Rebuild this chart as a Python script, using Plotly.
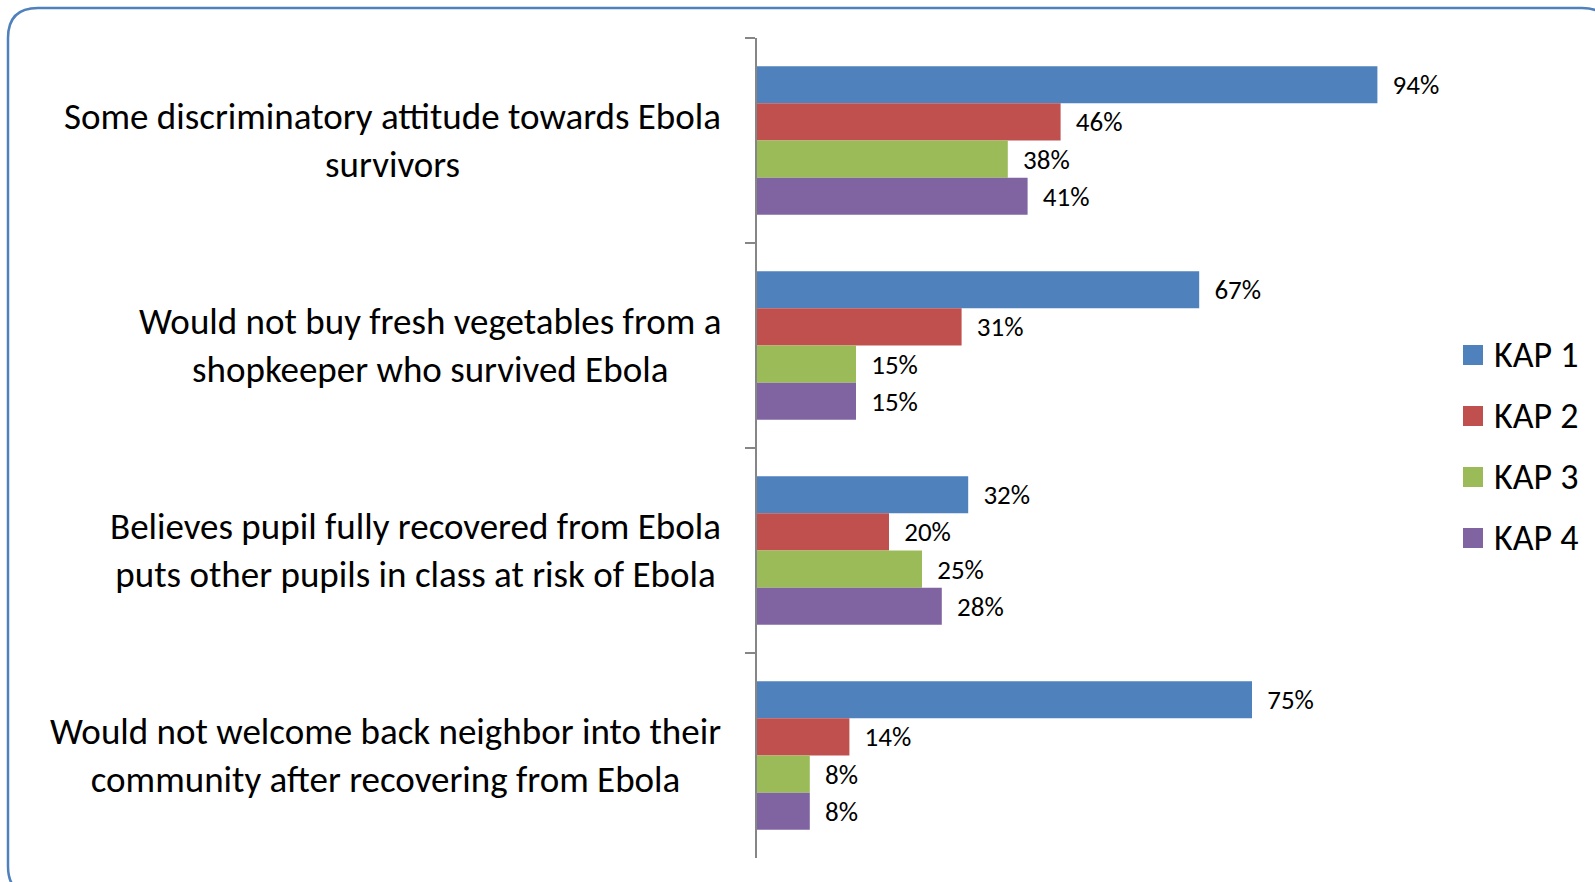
import plotly.graph_objects as go

# Survey statements (top to bottom) and the share agreeing in each KAP round
categories = [
    "Some discriminatory attitude towards Ebola<br>survivors",
    "Would not buy fresh vegetables from a<br>shopkeeper who survived Ebola",
    "Believes pupil fully recovered from Ebola<br>puts other pupils in class at risk of Ebola",
    "Would not welcome back neighbor into their<br>community after recovering from Ebola",
]
series_names = ["KAP 1", "KAP 2", "KAP 3", "KAP 4"]
kap1 = [94, 67, 32, 75]
kap2 = [46, 31, 20, 14]
kap3 = [38, 15, 25, 8]
kap4 = [41, 15, 28, 8]
series_values = [kap1, kap2, kap3, kap4]
colors = ["#4F81BD", "#C0504D", "#9BBB59", "#8064A2"]

FONT = "Carlito, Calibri, 'Liberation Sans Narrow', 'DejaVu Sans Condensed', Roboto, sans-serif"

W, H = 1595, 882
ML, MR, MT, MB = 757, 178, 38, 24
PW, PH = W - ML - MR, H - MT - MB


def px(x):
    return (x - ML) / PW


def py(y):
    return (H - MB - y) / PH


fig = go.Figure()
for name, vals, col in zip(series_names, series_values, colors):
    fig.add_trace(go.Bar(
        y=categories, x=vals, name=name, orientation="h",
        marker=dict(color=col, line=dict(width=0)),
        text=[f"\u00a0\u00a0{v}%" for v in vals],
        textposition="outside", cliponaxis=False,
        textfont=dict(family=FONT, size=27, color="#000000"),
        constraintext="none",
        showlegend=False,
    ))

# Category labels, centred lines, set left of the axis
annotations = []
for c in categories:
    annotations.append(dict(
        x=0, xref="paper", y=c, yref="y", xanchor="right", yanchor="middle",
        xshift=-34, align="center", showarrow=False, text=c,
        font=dict(family=FONT, size=37, color="#000000"),
    ))

# Legend: coloured squares with series names
shapes = []
leg_y = [355, 416, 477, 538]
for name, col, yy in zip(series_names, colors, leg_y):
    shapes.append(dict(type="rect", xref="paper", yref="paper",
                       x0=px(1463), x1=px(1483), y0=py(yy + 10), y1=py(yy - 10),
                       fillcolor=col, line=dict(width=0)))
    annotations.append(dict(x=px(1492), y=py(yy), xref="paper", yref="paper",
                            xanchor="left", yanchor="middle", showarrow=False,
                            text=name, font=dict(family=FONT, size=36, color="#000000")))

# Rounded frame around the chart (runs past the right and bottom edges)
x0, y0, x1, y1, r = 8, 8, 1612, 896, 30
path = (
    f"M{px(x0 + r)},{py(y0)} L{px(x1 - r)},{py(y0)} "
    f"Q{px(x1)},{py(y0)} {px(x1)},{py(y0 + r)} "
    f"L{px(x1)},{py(y1 - r)} Q{px(x1)},{py(y1)} {px(x1 - r)},{py(y1)} "
    f"L{px(x0 + r)},{py(y1)} Q{px(x0)},{py(y1)} {px(x0)},{py(y1 - r)} "
    f"L{px(x0)},{py(y0 + r)} Q{px(x0)},{py(y0)} {px(x0 + r)},{py(y0)} Z"
)
shapes.append(dict(type="path", xref="paper", yref="paper", path=path,
                   line=dict(color="#4F81BD", width=2.5), layer="below"))

fig.update_layout(
    width=W, height=H,
    margin=dict(l=ML, r=MR, t=MT, b=MB),
    paper_bgcolor="#FFFFFF", plot_bgcolor="#FFFFFF",
    barmode="group", bargap=0.275, bargroupgap=0,
    xaxis=dict(range=[0, 100], visible=False, fixedrange=True),
    yaxis=dict(
        autorange="reversed", showticklabels=False, showgrid=False,
        showline=True, linecolor="#868686", linewidth=2,
        ticks="outside", ticklen=10, tickwidth=2, tickcolor="#868686",
        tickson="boundaries", zeroline=False,
    ),
    annotations=annotations, shapes=shapes,
    showlegend=False,
)

fig.write_html("out.html")
